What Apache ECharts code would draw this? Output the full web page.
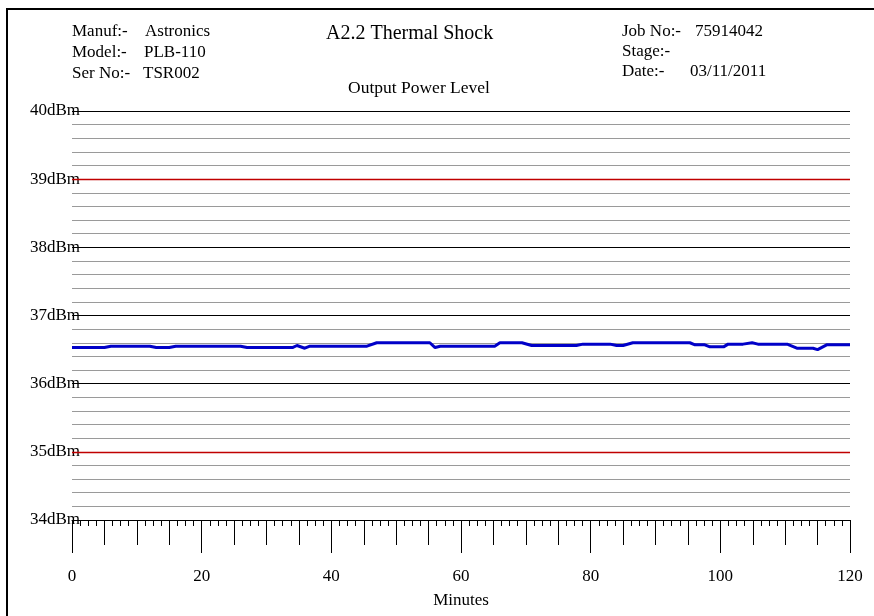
<!DOCTYPE html>
<html>
<head>
<meta charset="utf-8">
<script src="https://cdn.jsdelivr.net/npm/echarts@6/dist/echarts.min.js"></script>
<style>
  html, body { margin: 0; padding: 0; background: #fff; }
  #chart { width: 874px; height: 616px; }
</style>
</head>
<body>
<div id="chart"></div>
<script>
// Output power log, A2.2 thermal shock run
const minutes = [0, 5, 6, 12, 13, 15, 16, 26, 27, 34, 34.7, 35.9, 36.7, 45.5, 47, 55.2, 56, 56.8,
  65.2, 66, 69.4, 70.9, 77.8, 78.8, 83, 84, 85, 86.5, 95.3, 96.1, 97.6, 98.4, 100.5, 101.2,
  103.5, 104.9, 105.8, 110.3, 111.8, 114.3, 115, 116.4, 120];
const powerDbm = [36.53, 36.53, 36.55, 36.55, 36.53, 36.53, 36.55, 36.55, 36.53, 36.53, 36.56, 36.52,
  36.55, 36.55, 36.60, 36.60, 36.53, 36.55, 36.55, 36.60, 36.60, 36.56, 36.56, 36.58, 36.58,
  36.56, 36.56, 36.60, 36.60, 36.57, 36.57, 36.54, 36.54, 36.58, 36.58, 36.60, 36.58, 36.58,
  36.52, 36.52, 36.50, 36.57, 36.57];

const yMin = 34, yMax = 40;
const xMin = 0, xMax = 120;
// whole-dB reference lines; the upper and lower limits are drawn in red
const referenceLevels = [40, 38, 37, 36, 34];
const limitLevels = [39, 35];

const headerLeft = [
  ['Manuf:-', 'Astronics', 32, 145],
  ['Model:-', 'PLB-110', 53, 144],
  ['Ser No:-', 'TSR002', 74, 143]
];
const headerRight = [
  ['Job No:-', '75914042', 32, 695],
  ['Stage:-', '', 52, 695],
  ['Date:-', '03/11/2011', 72, 690]
];
const chartTitle = 'A2.2 Thermal Shock';
const chartSubtitle = 'Output Power Level';

const FONT = "'Liberation Serif', 'Times New Roman', serif";

const seriesData = minutes.map((m, i) => [m, powerDbm[i]]);

function txt(x, y, s, size) {
  return {
    type: 'text', x: x, y: y,
    style: { text: s, fill: '#000', font: size + 'px ' + FONT, verticalAlign: 'middle', align: 'left' }
  };
}

const graphics = [
  { type: 'rect', shape: { x: 7, y: 9, width: 900, height: 700 },
    style: { fill: 'none', stroke: '#000', lineWidth: 2 }, silent: true },
  txt(326, 34, chartTitle, 20),
  txt(348, 88, chartSubtitle, 17.5)
];
headerLeft.forEach(r => { graphics.push(txt(72, r[2], r[0], 17)); graphics.push(txt(r[3], r[2], r[1], 17)); });
headerRight.forEach(r => { graphics.push(txt(622, r[2], r[0], 17)); if (r[1]) graphics.push(txt(r[3], r[2], r[1], 17)); });

const levelLines = referenceLevels.map(v => ({ yAxis: v, lineStyle: { color: '#000', width: 1.2 } }))
  .concat(limitLevels.map(v => ({ yAxis: v, lineStyle: { color: '#c00000', width: 1.4 } })));

const chart = echarts.init(document.getElementById('chart'), null, { renderer: 'canvas' });
chart.setOption({
  animation: false,
  backgroundColor: '#fff',
  grid: { left: 72, right: 24, top: 111, bottom: 96, containLabel: false, outerBoundsMode: 'none' },
  xAxis: [
    {
      type: 'value', min: xMin, max: xMax, interval: 5, position: 'bottom',
      axisLine: { show: true, lineStyle: { color: '#000', width: 1 } },
      axisTick: { show: true, length: 25, lineStyle: { color: '#000', width: 1 } },
      minorTick: { show: true, splitNumber: 4, length: 6, lineStyle: { color: '#000', width: 1 } },
      axisLabel: { show: false },
      splitLine: { show: false }
    },
    {
      type: 'value', min: xMin, max: xMax, interval: 20, position: 'bottom',
      name: 'Minutes', nameLocation: 'middle', nameGap: 72,
      nameTextStyle: { color: '#000', fontFamily: FONT, fontSize: 17 },
      axisLine: { show: false },
      axisTick: { show: true, length: 33, lineStyle: { color: '#000', width: 1 } },
      axisLabel: { show: true, margin: 48, color: '#000', fontFamily: FONT, fontSize: 17 },
      splitLine: { show: false }
    }
  ],
  yAxis: {
    type: 'value', min: yMin, max: yMax, interval: 1,
    axisLine: { show: false },
    axisTick: { show: false },
    axisLabel: { show: true, margin: -8, color: '#000', fontFamily: FONT, fontSize: 17,
      formatter: v => v + 'dBm' },
    splitLine: { show: false },
    minorTick: { show: false, splitNumber: 5 },
    minorSplitLine: { show: true, lineStyle: { color: '#9a9a9a', width: 1 } }
  },
  series: [{
    type: 'line', xAxisIndex: 0, data: seriesData,
    showSymbol: false, symbol: 'none',
    lineStyle: { color: '#0000c8', width: 3 },
    z: 5,
    markLine: {
      silent: true, symbol: 'none', label: { show: false }, z: 3,
      lineStyle: { type: 'solid' },
      data: levelLines
    }
  }],
  graphic: graphics
});
</script>
</body>
</html>
